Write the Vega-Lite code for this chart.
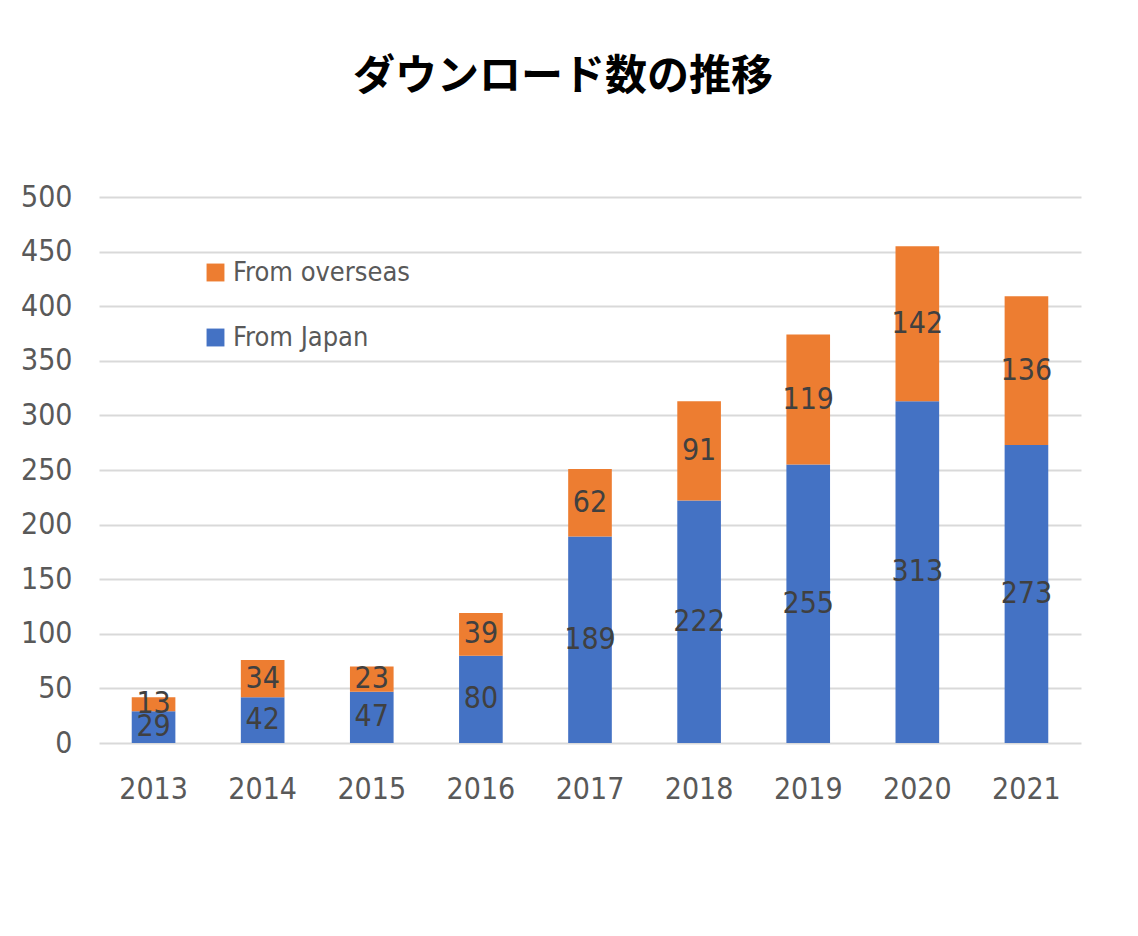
{
  "$schema": "https://vega.github.io/schema/vega-lite/v6.json",
  "width": 982,
  "height": 546,
  "autosize": "none",
  "padding": {"left": 99, "top": 197, "right": 57, "bottom": 193},
  "background": "white",
  "config": {
    "font": "Liberation Sans Narrow, DejaVu Sans Condensed, sans-serif",
    "view": {"stroke": null}
  },
  "title": {
    "text": "ダウンロード数の推移",
    "font": "Noto Sans CJK JP",
    "fontWeight": "bold",
    "fontSize": 42,
    "color": "#000000",
    "anchor": "middle",
    "dx": -27,
    "offset": 83
  },
  "data": {
    "values": [
      {"year": "2013", "series": "From Japan", "value": 29},
      {"year": "2013", "series": "From overseas", "value": 13},
      {"year": "2014", "series": "From Japan", "value": 42},
      {"year": "2014", "series": "From overseas", "value": 34},
      {"year": "2015", "series": "From Japan", "value": 47},
      {"year": "2015", "series": "From overseas", "value": 23},
      {"year": "2016", "series": "From Japan", "value": 80},
      {"year": "2016", "series": "From overseas", "value": 39},
      {"year": "2017", "series": "From Japan", "value": 189},
      {"year": "2017", "series": "From overseas", "value": 62},
      {"year": "2018", "series": "From Japan", "value": 222},
      {"year": "2018", "series": "From overseas", "value": 91},
      {"year": "2019", "series": "From Japan", "value": 255},
      {"year": "2019", "series": "From overseas", "value": 119},
      {"year": "2020", "series": "From Japan", "value": 313},
      {"year": "2020", "series": "From overseas", "value": 142},
      {"year": "2021", "series": "From Japan", "value": 273},
      {"year": "2021", "series": "From overseas", "value": 136}
    ]
  },
  "encoding": {
    "x": {
      "field": "year",
      "type": "ordinal",
      "scale": {"paddingInner": 0.6, "paddingOuter": 0.3},
      "axis": {
        "title": null,
        "labelAngle": 0,
        "domain": false,
        "ticks": false,
        "labelFontSize": 30,
        "labelColor": "#595959",
        "labelPadding": 31
      }
    },
    "order": {"field": "series", "sort": "ascending"}
  },
  "layer": [
    {
      "mark": {"type": "bar"},
      "encoding": {
        "y": {
          "field": "value",
          "type": "quantitative",
          "stack": "zero",
          "scale": {"domain": [0, 500], "nice": false},
          "axis": {
            "title": null,
            "values": [0, 50, 100, 150, 200, 250, 300, 350, 400, 450, 500],
            "domain": false,
            "ticks": false,
            "grid": true,
            "gridColor": "#d9d9d9",
            "gridWidth": 2,
            "labelFontSize": 30,
            "labelColor": "#595959",
            "labelPadding": 27
          }
        },
        "color": {
          "field": "series",
          "type": "nominal",
          "scale": {"domain": ["From overseas", "From Japan"], "range": ["#ED7D31", "#4472C4"]},
          "legend": {
            "title": null,
            "orient": "none",
            "legendX": 103,
            "legendY": 62,
            "symbolType": "square",
            "symbolSize": 320,
            "symbolStrokeWidth": 0,
            "labelFontSize": 27,
            "labelColor": "#595959",
            "labelOffset": 4,
            "labelLimit": 0,
            "rowPadding": 37
          }
        }
      }
    },
    {
      "mark": {"type": "text", "fontSize": 30, "color": "#404040", "baseline": "middle"},
      "encoding": {
        "y": {"field": "value", "type": "quantitative", "stack": "zero", "bandPosition": 0.5},
        "detail": {"field": "series"},
        "text": {"field": "value", "type": "quantitative"}
      }
    }
  ]
}
